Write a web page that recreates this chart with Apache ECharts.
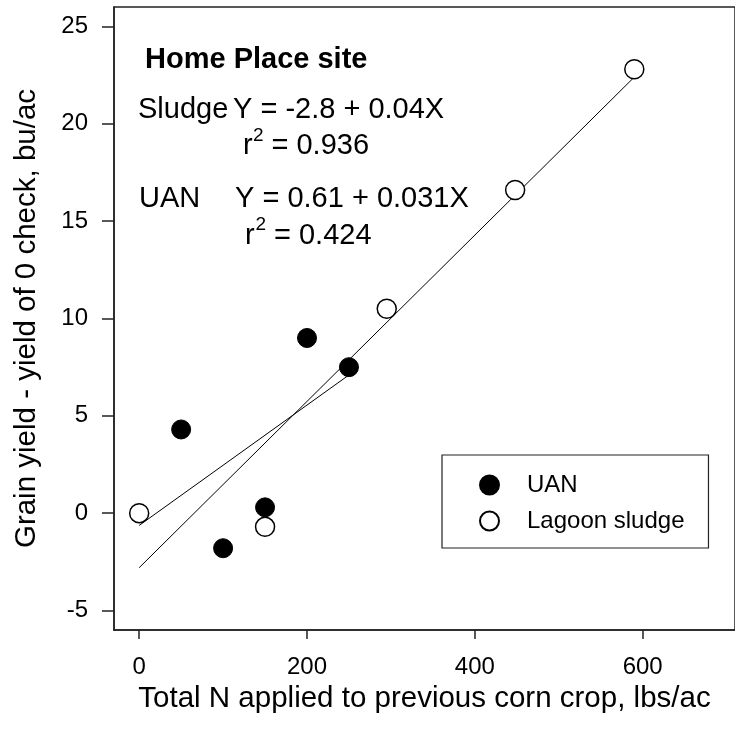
<!DOCTYPE html>
<html>
<head>
<meta charset="utf-8">
<script src="https://cdn.jsdelivr.net/npm/echarts@6/dist/echarts.min.js"></script>
<style>
html,body{margin:0;padding:0;background:#fff;}
#chart{width:735px;height:736px;}
</style>
</head>
<body>
<div id="chart"></div>
<script>
// ---- data ----
var uanN = [50, 100, 150, 200, 250];
var uanYield = [4.3, -1.8, 0.3, 9.0, 7.5];
var sludgeN = [0, 150, 295, 448, 590];
var sludgeYield = [0.0, -0.7, 10.5, 16.6, 22.8];
// regression line endpoints as drawn
var uanFitN = [0, 250];
var uanFitYield = [-0.63, 7.1];
var sludgeFitN = [0, 590];
var sludgeFitYield = [-2.8, 22.4];
// axis ticks
var xTicks = [0, 200, 400, 600];
var yTicks = [-5, 0, 5, 10, 15, 20, 25];

function pairs(xs, ys) { return xs.map(function (x, i) { return [x, ys[i]]; }); }

var FONT = '"Liberation Sans", Arial, Helvetica, sans-serif';
var AX = '#222';

var chart = echarts.init(document.getElementById('chart'), null, {renderer: 'canvas'});

function txt(text, x, y, size, weight) {
  return {
    type: 'text', z: 100,
    style: {
      text: text, x: x, y: y,
      font: (weight || 'normal') + ' ' + size + 'px ' + FONT,
      fill: '#000', verticalAlign: 'middle', align: 'left'
    }
  };
}

var option = {
  animation: false,
  backgroundColor: '#fff',
  grid: {
    left: 114, top: 7, right: -2, bottom: 106,
    show: true, borderColor: AX, borderWidth: 1.5, backgroundColor: 'transparent'
  },
  xAxis: {
    type: 'value', min: -30, max: 710,
    name: 'Total N applied to previous corn crop, lbs/ac',
    nameLocation: 'middle', nameGap: 50,
    nameTextStyle: {fontFamily: FONT, fontSize: 29.5, color: '#000'},
    axisLine: {show: true, onZero: false, lineStyle: {color: AX, width: 1.5}},
    axisTick: {show: true, inside: false, length: 9, lineStyle: {color: AX, width: 1.5}, customValues: xTicks},
    axisLabel: {fontFamily: FONT, fontSize: 24, color: '#000', margin: 25, customValues: xTicks},
    splitLine: {show: false}
  },
  yAxis: {
    type: 'value', min: -6, max: 26,
    name: 'Grain yield - yield of 0 check, bu/ac',
    nameLocation: 'middle', nameGap: 72, nameRotate: 90,
    nameTextStyle: {fontFamily: FONT, fontSize: 29.5, color: '#000'},
    axisLine: {show: true, onZero: false, lineStyle: {color: AX, width: 1.5}},
    axisTick: {show: true, inside: false, length: 12, lineStyle: {color: AX, width: 1.5}, customValues: yTicks},
    axisLabel: {fontFamily: FONT, fontSize: 24, color: '#000', margin: 26, customValues: yTicks},
    splitLine: {show: false}
  },
  legend: {
    data: ['UAN', 'Lagoon sludge'],
    orient: 'vertical',
    left: 442, top: 455,
    padding: [18, 24, 15, 37],
    borderColor: AX, borderWidth: 1.2,
    itemWidth: 19, itemHeight: 19, itemGap: 12,
    textStyle: {fontFamily: FONT, fontSize: 24, color: '#000', lineHeight: 24, padding: [0, 0, 0, 23]}
  },
  series: [
    {
      name: 'Sludge fit', type: 'line', z: 1,
      data: pairs(sludgeFitN, sludgeFitYield),
      showSymbol: false, symbol: 'none',
      lineStyle: {color: '#000', width: 1}
    },
    {
      name: 'UAN fit', type: 'line', z: 1,
      data: pairs(uanFitN, uanFitYield),
      showSymbol: false, symbol: 'none',
      lineStyle: {color: '#000', width: 1}
    },
    {
      name: 'UAN', type: 'scatter', z: 3,
      data: pairs(uanN, uanYield),
      symbol: 'circle', symbolSize: 19,
      itemStyle: {color: '#000', borderColor: '#000', borderWidth: 1, opacity: 1}
    },
    {
      name: 'Lagoon sludge', type: 'scatter', z: 4,
      data: pairs(sludgeN, sludgeYield),
      symbol: 'circle', symbolSize: 19,
      itemStyle: {color: '#fff', borderColor: '#000', borderWidth: 1.5, opacity: 1}
    }
  ],
  graphic: [
    txt('Home Place site', 145, 59.5, 29, 'bold'),
    txt('Sludge', 138, 110, 29),
    txt('Y = -2.8 + 0.04X', 233, 110, 29),
    txt('r', 243, 146, 29),
    txt('2', 253, 136, 19),
    txt('= 0.936', 271.5, 146, 29),
    txt('UAN', 139, 199, 29),
    txt('Y = 0.61 + 0.031X', 235, 199, 29),
    txt('r', 245, 236, 29),
    txt('2', 255.5, 225, 19),
    txt('= 0.424', 274, 236, 29)
  ]
};
chart.setOption(option);
</script>
</body>
</html>
